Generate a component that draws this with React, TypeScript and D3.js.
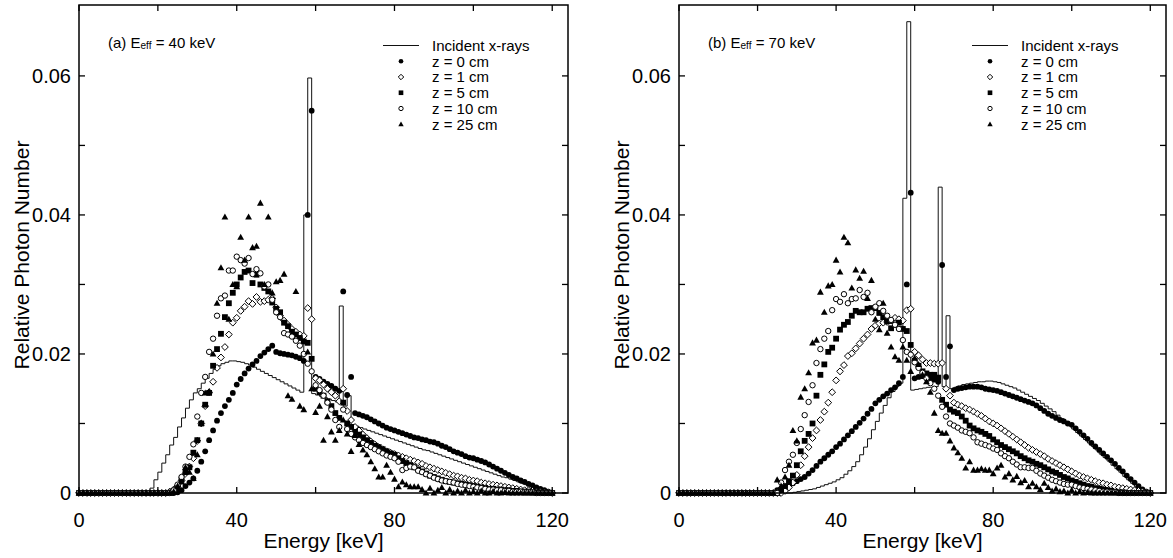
import React from 'react';
import * as d3 from 'd3';

// Energy bins (keV), one value per keV from 0 to 120
const energies: number[] = d3.range(0, 121);

// Values below are in units of 1e-4 (relative photon number)
// ---------- (a) E_eff = 40 keV ----------
const inc40 = [
  0,0,0,0,0,0,0,0,0,0,
  0,0,0,0,0,0,0,0,0,7,
  19,30,43,55,69,80,95,108,122,134,
  144,150,158,165,172,178,183,186,188,190,
  190,189,188,186,184,181,178,175,172,169,
  166,163,160,157,154,151,148,145,400,597,
  143,141,139,137,135,133,131,269,125,140,
  98,96,94,92,90,88,86,84,82,80,
  78,76,74,72,70,68,66,64,62,61,
  59,57,55,53,51,49,47,45,43,41,
  39,37,35,33,31,29,27,25,23,22,
  20,18,16,14,12,10,8,6,4,2,
  0,
];
const z0_40 = [
  0,0,0,0,0,0,0,0,0,0,
  0,0,0,0,0,0,0,0,0,0,
  0,0,0,0,0,1,4,10,15,21,
  32,45,60,76,90,104,115,125,134,144,
  156,164,172,179,185,190,197,202,207,212,
  203,201,200,199,198,196,194,190,400,550,
  167,164,160,157,154,150,147,290,141,167,
  115,113,111,109,106,103,100,97,94,92,
  90,88,86,84,82,80,79,77,76,74,
  73,71,68,66,63,60,58,56,53,51,
  50,48,46,44,41,38,35,32,29,26,
  23,21,18,16,13,11,8,6,4,2,
  0,
];
const z1_40 = [
  0,0,0,0,0,0,0,0,0,0,
  0,0,0,0,0,0,0,0,0,0,
  0,0,0,2,5,10,18,28,38,50,
  75,100,125,145,160,180,195,210,228,245,
  252,262,268,276,272,282,275,276,278,280,
  267,255,248,242,236,232,228,226,266,250,
  165,162,156,150,145,140,132,150,118,105,
  95,90,84,79,74,70,66,63,60,58,
  56,54,52,50,48,46,44,42,39,37,
  35,33,31,29,27,25,24,22,21,19,
  18,17,15,14,13,12,11,10,9,8,
  7,6,5,4,4,3,2,2,1,1,
  0,
];
const z5_40 = [
  0,0,0,0,0,0,0,0,0,0,
  0,0,0,0,0,0,0,0,0,0,
  0,0,0,0,3,8,19,30,37,58,
  76,100,127,144,183,207,229,253,273,288,
  300,310,318,320,302,314,300,295,290,274,
  265,260,245,240,232,228,223,218,216,193,
  150,145,140,132,125,115,108,130,100,95,
  88,84,80,76,72,68,66,63,60,57,
  55,50,46,43,40,37,34,31,28,25,
  23,21,19,17,16,15,14,13,12,11,
  10,9,8,7,6,6,5,5,4,4,
  3,3,2,2,2,1,1,1,0,0,
  0,
];
const z10_40 = [
  0,0,0,0,0,0,0,0,0,0,
  0,0,0,0,0,0,0,0,0,0,
  0,0,0,0,4,12,23,38,52,70,
  110,144,167,203,222,255,280,284,320,320,
  340,335,330,338,315,322,316,297,300,278,
  260,253,230,228,225,219,212,200,186,175,
  155,148,140,130,120,105,95,120,92,85,
  80,76,72,69,66,63,60,57,54,52,
  50,45,33,36,38,37,32,30,27,25,
  22,20,18,17,16,15,13,12,11,10,
  9,8,7,6,5,5,4,4,3,3,
  2,2,2,1,1,1,0,0,0,0,
  0,
];
const z25_40 = [
  0,0,0,0,0,0,0,0,0,0,
  0,0,0,0,0,0,0,0,0,0,
  0,0,0,0,2,10,16,37,30,21,
  55,100,144,146,200,273,324,397,250,300,
  297,368,335,397,353,355,417,300,397,288,
  304,306,315,140,135,290,125,120,203,150,
  116,125,76,110,88,76,90,105,85,60,
  83,70,62,55,45,35,23,23,40,30,
  20,9,16,12,9,9,9,5,0,7,
  0,4,8,0,5,0,3,0,4,0,
  2,0,3,0,0,2,0,0,1,0,
  0,0,0,0,0,0,0,0,0,0,
  0,
];

// ---------- (b) E_eff = 70 keV ----------
const inc70 = [
  0,0,0,0,0,0,0,0,0,0,
  0,0,0,0,0,0,0,0,0,0,
  0,0,0,0,0,0,0,0,0,0,
  1,2,3,4,5,6,8,10,12,14,
  16,19,22,27,32,38,45,55,66,78,
  91,103,115,126,137,146,153,158,424,678,
  148,149,150,151,152,152,153,440,153,255,
  150,152,154,156,157,158,159,160,160,161,
  161,160,159,157,155,153,151,148,145,142,
  139,136,133,129,125,121,117,112,107,102,
  97,92,87,82,77,72,67,62,56,51,
  46,40,35,30,24,19,14,9,5,2,
  0,
];
const z0_70 = [
  0,0,0,0,0,0,0,0,0,0,
  0,0,0,0,0,0,0,0,0,0,
  0,0,0,0,0,4,6,8,11,14,
  17,20,23,28,33,39,45,50,55,60,
  66,71,77,83,89,95,101,107,114,121,
  129,134,139,143,148,152,158,167,300,432,
  165,167,168,167,165,163,160,328,167,211,
  148,150,151,152,153,153,153,152,150,149,
  148,147,145,143,141,139,137,135,133,131,
  129,126,122,118,114,111,108,105,103,100,
  98,93,88,83,78,72,67,62,57,52,
  47,42,36,31,25,20,15,10,5,2,
  0,
];
const z1_70 = [
  0,0,0,0,0,0,0,0,0,0,
  0,0,0,0,0,0,0,0,0,0,
  0,0,0,0,0,0,0,3,8,15,
  26,40,53,66,79,90,105,117,130,145,
  162,175,184,197,201,208,215,222,228,236,
  241,244,245,246,248,252,250,248,263,265,
  203,198,192,187,187,186,186,187,150,140,
  130,127,125,122,120,117,114,111,107,103,
  100,97,93,89,85,81,77,73,69,65,
  62,59,56,53,49,46,43,40,37,34,
  31,28,25,23,21,19,17,15,14,12,
  11,9,8,7,6,5,4,3,2,1,
  0,
];
const z5_70 = [
  0,0,0,0,0,0,0,0,0,0,
  0,0,0,0,0,0,0,0,0,0,
  0,0,0,0,0,0,4,10,17,25,
  40,60,75,85,100,140,170,185,203,209,
  222,235,242,246,255,262,260,260,265,266,
  266,259,253,247,237,242,245,236,233,213,
  190,183,175,172,170,170,166,134,127,120,
  117,115,110,104,97,93,90,88,85,82,
  77,73,69,66,63,60,57,53,50,47,
  45,42,40,37,34,31,29,26,23,21,
  18,16,14,12,10,9,7,6,5,4,
  3,2,1,1,0,0,0,0,0,0,
  0,
];
const z10_70 = [
  0,0,0,0,0,0,0,0,0,0,
  0,0,0,0,0,0,0,0,0,0,
  0,0,0,0,0,0,15,33,45,55,
  72,92,112,131,155,187,207,222,233,263,
  279,275,286,273,279,280,292,282,288,260,
  268,273,262,255,249,242,236,220,203,199,
  188,180,173,165,158,150,140,124,110,100,
  97,94,90,88,86,80,73,71,69,67,
  64,62,57,53,50,45,41,37,37,36,
  36,32,28,25,22,19,17,15,13,12,
  12,10,8,7,6,5,4,3,2,2,
  1,1,0,0,0,0,0,0,0,0,
  0,
];
const z25_70 = [
  0,0,0,0,0,0,0,0,0,0,
  0,0,0,0,0,0,0,0,0,0,
  0,0,0,0,0,19,10,23,40,90,
  75,138,150,173,216,220,289,260,298,300,
  335,318,368,360,295,321,309,319,280,306,
  250,235,273,230,210,196,191,210,191,175,
  194,185,170,160,145,115,90,86,86,75,
  65,58,50,36,45,33,33,35,33,33,
  28,36,40,23,28,19,24,15,18,9,
  14,9,5,14,8,3,6,2,3,0,
  4,0,2,0,1,0,0,0,0,0,
  0,0,0,0,0,0,0,0,0,0,
  0,
];

const UNIT = 1e-4;

const xTicks = [0, 40, 80, 120];
const xMinorTicks = [20, 60, 100];
const yTicks = [0, 0.02, 0.04, 0.06];
const yTickLabels = ['0', '0.02', '0.04', '0.06'];
const yMinorTicks = [0.01, 0.03, 0.05];

const seriesNames = ['z = 0 cm', 'z = 1 cm', 'z = 5 cm', 'z = 10 cm', 'z = 25 cm'];
const markerKinds = ['fcircle', 'diamond', 'square', 'ocircle', 'triangle'];

const FONT = '"Liberation Sans", Arial, Helvetica, sans-serif';

const TOP = 5;
const BOTTOM = 493;

function Marker({ kind, x, y, s = 1 }: { kind: string; x: number; y: number; s?: number }) {
  switch (kind) {
    case 'fcircle':
      return <circle cx={x} cy={y} r={2.9 * s} fill="#000" />;
    case 'ocircle':
      return <circle cx={x} cy={y} r={2.7 * s} fill="#fff" stroke="#000" strokeWidth={1} />;
    case 'square':
      return <rect x={x - 2.9 * s} y={y - 2.9 * s} width={5.8 * s} height={5.8 * s} fill="#000" />;
    case 'diamond': {
      const d = 3.4 * s;
      return (
        <path
          d={`M${x},${y - d}L${x + d},${y}L${x},${y + d}L${x - d},${y}Z`}
          fill="#fff"
          stroke="#000"
          strokeWidth={1}
        />
      );
    }
    case 'triangle': {
      const h = 3.5 * s;
      return (
        <path
          d={`M${x},${y - h}L${x + 3.4 * s},${y + 2.6 * s}L${x - 3.4 * s},${y + 2.6 * s}Z`}
          fill="#000"
        />
      );
    }
    default:
      return null;
  }
}

function Panel({
  x0,
  x1,
  incident,
  series,
  tag,
  eff,
  legendText,
}: {
  x0: number;
  x1: number;
  incident: number[];
  series: number[][];
  tag: string;
  eff: string;
  legendText: number;
}) {
  const x = d3.scaleLinear().domain([0, 124]).range([x0, x1]);
  const y = d3.scaleLinear().domain([0, 0.0702]).range([BOTTOM, TOP]);
  const line = d3
    .line<number>()
    .x((_, i) => x(energies[i]))
    .y((d) => y(d * UNIT))
    .curve(d3.curveStepBefore);

  const majorLen = 6;
  const legendRowY = (i: number) => 45.5 + 15.75 * i;
  const legendMarkerX = legendText - 31;

  return (
    <g>
      {/* incident spectrum */}
      <path d={line(incident) || ''} fill="none" stroke="#111" strokeWidth={1} />
      {/* data points */}
      {series.map((vals, si) => (
        <g key={si}>
          {vals.map((v, i) => (
            <Marker key={i} kind={markerKinds[si]} x={x(energies[i])} y={y(v * UNIT)} />
          ))}
        </g>
      ))}
      {/* frame */}
      <rect x={x0} y={TOP} width={x1 - x0} height={BOTTOM - TOP} fill="none" stroke="#000" strokeWidth={1.5} />
      {/* x ticks */}
      {[...xTicks, ...xMinorTicks].map((t) => (
        <g key={'xt' + t}>
          <line x1={x(t)} x2={x(t)} y1={BOTTOM} y2={BOTTOM - majorLen} stroke="#000" strokeWidth={1.3} />
          <line x1={x(t)} x2={x(t)} y1={TOP} y2={TOP + majorLen} stroke="#000" strokeWidth={1.3} />
        </g>
      ))}
      {xTicks.map((t) => (
        <text key={'xl' + t} x={x(t)} y={527} textAnchor="middle" fontSize={20} fontFamily={FONT}>
          {t}
        </text>
      ))}
      {/* y ticks */}
      {[...yTicks, ...yMinorTicks].map((t) => (
        <g key={'yt' + t}>
          <line x1={x0} x2={x0 + majorLen} y1={y(t)} y2={y(t)} stroke="#000" strokeWidth={1.3} />
          <line x1={x1} x2={x1 - majorLen} y1={y(t)} y2={y(t)} stroke="#000" strokeWidth={1.3} />
        </g>
      ))}
      {yTicks.map((t, i) => (
        <text
          key={'yl' + t}
          x={x0 - 8}
          y={y(t)}
          dy="0.36em"
          textAnchor="end"
          fontSize={20}
          fontFamily={FONT}
        >
          {yTickLabels[i]}
        </text>
      ))}
      {/* axis titles */}
      <text x={(x0 + x1) / 2} y={548} textAnchor="middle" fontSize={21} fontFamily={FONT}>
        Energy [keV]
      </text>
      <text
        transform={`translate(${x0 - 50},${255}) rotate(-90)`}
        textAnchor="middle"
        fontSize={21}
        fontFamily={FONT}
      >
        Relative Photon Number
      </text>
      {/* annotation */}
      <text x={x0 + 29} y={48} fontSize={15} fontFamily={FONT}>
        {tag} E
        <tspan fontSize={10} dy={1}>
          eff
        </tspan>
        <tspan dy={-1}>{` = ${eff} keV`}</tspan>
      </text>
      {/* legend */}
      <line
        x1={legendMarkerX - 18}
        x2={legendMarkerX + 18}
        y1={legendRowY(0)}
        y2={legendRowY(0)}
        stroke="#111"
        strokeWidth={1}
      />
      <text x={legendText} y={legendRowY(0)} dy="0.36em" fontSize={15} fontFamily={FONT}>
        Incident x-rays
      </text>
      {seriesNames.map((name, i) => (
        <g key={name}>
          <Marker kind={markerKinds[i]} x={legendMarkerX} y={legendRowY(i + 1)} s={0.8} />
          <text x={legendText} y={legendRowY(i + 1)} dy="0.36em" fontSize={15} fontFamily={FONT}>
            {name}
          </text>
        </g>
      ))}
    </g>
  );
}

export default function App() {
  return (
    <svg
      width={1173}
      height={558}
      style={{ position: 'absolute', left: 0, top: 0, background: '#fff' }}
    >
      <rect width={1173} height={558} fill="#fff" />
      <Panel
        x0={79}
        x1={568}
        incident={inc40}
        series={[z0_40, z1_40, z5_40, z10_40, z25_40]}
        tag="(a)"
        eff="40"
        legendText={432}
      />
      <Panel
        x0={679}
        x1={1166}
        incident={inc70}
        series={[z0_70, z1_70, z5_70, z10_70, z25_70]}
        tag="(b)"
        eff="70"
        legendText={1021}
      />
    </svg>
  );
}
